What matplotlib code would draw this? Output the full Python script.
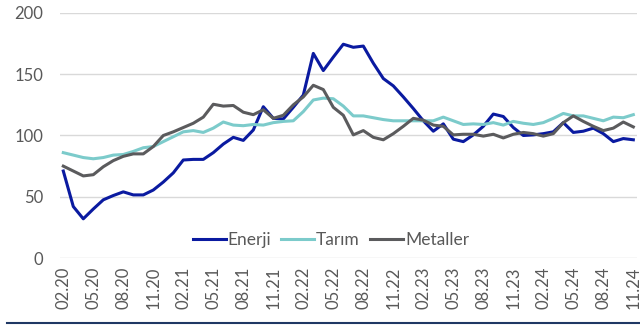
import matplotlib
matplotlib.use("Agg")
import matplotlib.pyplot as plt
from matplotlib.lines import Line2D
import numpy as np

plt.rcParams['font.family'] = ['Lato', 'DejaVu Sans']

# monthly index values, 02.20 .. 11.24
enerji = [71, 42, 32, 40, 47.5, 51, 54, 51.5, 51.5, 55.5, 62, 69.5,
          80, 80.5, 80.5, 86, 93, 98.5, 96, 104.5, 123.5, 114, 113.5, 123,
          133, 167, 153, 164, 174.5, 172, 173, 159, 146.5, 140.5, 131.5, 122,
          112, 103.5, 109.5, 97, 95, 100.5, 107.5, 117.5, 115.5, 106.5, 100, 100.5,
          101.5, 103, 110.5, 102.5, 103.5, 106, 101.5, 95, 97.5, 96.5]
tarim = [86, 84, 82, 81, 82, 84, 84.5, 87, 90, 91, 95, 99,
         103, 104, 102.5, 106, 111, 108.5, 108, 109, 108.5, 110.5, 111.5, 112,
         119.5, 129, 130.5, 130, 124, 116, 116, 114.5, 113, 112, 112, 112,
         112, 112, 115, 112, 109, 109.5, 109, 110.5, 108.5, 111.5, 110, 109,
         110.5, 114, 118, 116, 116, 114, 112, 115, 114.5, 117]
metaller = [75, 71, 67, 68, 74.5, 79.5, 83, 85, 85, 91, 100, 103,
            106.5, 110, 115, 125.5, 124, 124.5, 119, 117, 121, 114, 116.5, 125,
            131.5, 141, 137.5, 123, 116.5, 100.5, 104, 98.5, 96.5, 101.5, 107.5, 114,
            112.5, 108.5, 107.5, 100.5, 101, 101, 99.5, 101, 98, 101, 102.5, 101.5,
            99.5, 101.5, 110.5, 116, 111.5, 107.5, 104, 106, 111, 107]

tick_labels = ["02.20", "05.20", "08.20", "11.20", "02.21", "05.21", "08.21",
               "11.21", "02.22", "05.22", "08.22", "11.22", "02.23", "05.23",
               "08.23", "11.23", "02.24", "05.24", "08.24", "11.24"]

fig = plt.figure(figsize=(6.4, 3.28), dpi=100)
ax = fig.add_axes([0.09375, 0.2134, 0.9016, 0.747])

x = np.arange(len(enerji))
ax.plot(x, enerji, color="#0A1AA0", lw=2.2, label="Enerji")
ax.plot(x, tarim, color="#7CCBCB", lw=2.2, label="Tarım")
ax.plot(x, metaller, color="#5B5B5D", lw=2.2, label="Metaller")

ax.set_xlim(-0.33, len(x) - 1 + 0.37)
ax.set_ylim(0, 200)
ax.set_yticks([0, 50, 100, 150, 200])
ax.set_xticks(x[::3])
ax.set_xticklabels(tick_labels, rotation=90)

ax.grid(axis="y", color="#D9D9D9", lw=1)
ax.set_axisbelow(True)
for s in ax.spines.values():
    s.set_visible(False)
ax.tick_params(axis="both", length=0, colors="#595959", labelsize=12)
ax.tick_params(axis="y", pad=12)
ax.tick_params(axis="x", pad=6)

ax.legend(loc="center", bbox_to_anchor=(0.517, 0.268), bbox_transform=fig.transFigure,
          ncol=3, frameon=False, fontsize=12.5, handlelength=1.9,
          handletextpad=0.1, columnspacing=0.6, labelcolor="#595959")

# rule along the bottom edge
fig.add_artist(Line2D([7 / 640, 1.0], [1 - 323 / 328] * 2, color="#1F3864", lw=1.5))

fig.savefig("out.png", dpi=100)
